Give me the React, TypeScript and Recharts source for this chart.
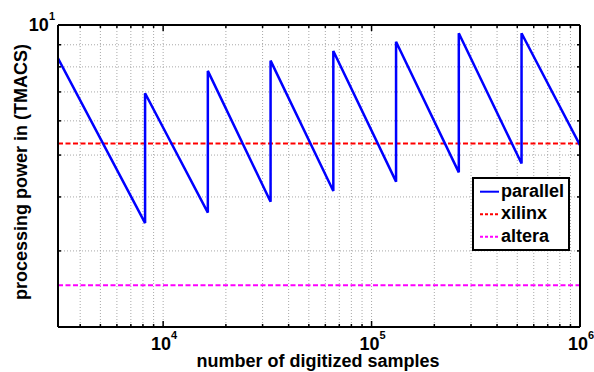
import React from 'react';
import { LineChart, Line, XAxis, YAxis, CartesianGrid, Legend, Label } from 'recharts';

const FONT = '"Liberation Sans", Arial, sans-serif';

// axis limits
const xMin = 3130;
const xMax = 1000000;
const yMin = 2;
const yMax = 10;

// sawtooth: segment starts / ends (powers of two where the curve jumps)
const jumpSamples = [8192, 16384, 32768, 65536, 131072, 262144, 524288];
// value at the start of each segment (first one at the left edge)
const peakValues = [8.37, 6.95, 7.83, 8.27, 8.71, 9.15, 9.57, 9.57];
// value at the end of each segment (last one at the right edge)
const troughValues = [3.48, 3.68, 3.9, 4.13, 4.34, 4.56, 4.78, 5.27];

const xilinxValue = 5.32;
const alteraValue = 2.5;

const xTicks = [
  4000, 5000, 6000, 7000, 8000, 9000,
  10000, 20000, 30000, 40000, 50000, 60000, 70000, 80000, 90000,
  100000, 200000, 300000, 400000, 500000, 600000, 700000, 800000, 900000,
  1000000,
];
const yTicks = [2, 3, 4, 5, 6, 7, 8, 9, 10];

const segStarts = [xMin, ...jumpSamples];
const segEnds = [...jumpSamples, xMax];

const parallelData: { x: number; y: number }[] = [];
segStarts.forEach((s, i) => {
  parallelData.push({ x: s, y: peakValues[i] });
  parallelData.push({ x: segEnds[i], y: troughValues[i] });
});

const xilinxData = [{ x: xMin, y: xilinxValue }, { x: xMax, y: xilinxValue }];
const alteraData = [{ x: xMin, y: alteraValue }, { x: xMax, y: alteraValue }];

const legendItems = [
  { name: 'parallel', color: '#0000ff', dash: undefined as string | undefined },
  { name: 'xilinx', color: '#ff0000', dash: '3 2' },
  { name: 'altera', color: '#ff00ff', dash: '3 2' },
];

const isDecade = (v: number) => Math.abs(Math.log10(v) - Math.round(Math.log10(v))) < 1e-9;

const PowerLabel = ({ x, y, v, anchor }: { x: number; y: number; v: number; anchor: string }) => (
  <text x={x} y={y} textAnchor={anchor} fontFamily={FONT} fontWeight="bold" fontSize={18} fill="#000">
    <tspan>10</tspan>
    <tspan dy={-11} fontSize={11}>{Math.round(Math.log10(v))}</tspan>
  </text>
);

const BottomTick = (props: any) => {
  const { x, y, payload } = props;
  const major = isDecade(payload.value);
  return (
    <g>
      <line x1={x} y1={y} x2={x} y2={y - (major ? 6 : 3)} stroke="#000" strokeWidth={1.5} />
      {major && <PowerLabel x={x + 1} y={y + 23} v={payload.value} anchor="middle" />}
    </g>
  );
};

const TopTick = (props: any) => {
  const { x, y, payload } = props;
  const major = isDecade(payload.value);
  return <line x1={x} y1={y} x2={x} y2={y + (major ? 6 : 3)} stroke="#000" strokeWidth={1.5} />;
};

const LeftTick = (props: any) => {
  const { x, y, payload } = props;
  const major = isDecade(payload.value);
  return (
    <g>
      <line x1={x} y1={y} x2={x + (major ? 6 : 3)} y2={y} stroke="#000" strokeWidth={1.5} />
      {major && <PowerLabel x={x - 3} y={y + 6} v={payload.value} anchor="end" />}
    </g>
  );
};

const RightTick = (props: any) => {
  const { x, y, payload } = props;
  const major = isDecade(payload.value);
  return <line x1={x} y1={y} x2={x - (major ? 6 : 3)} y2={y} stroke="#000" strokeWidth={1.5} />;
};

const LegendBox = () => (
  <svg width={98} height={74} style={{ display: 'block' }}>
    <rect x={1} y={1} width={96} height={72} fill="#fff" stroke="#000" strokeWidth={2} />
    {legendItems.map((it, i) => {
      const cy = 14.7 + i * 22.5;
      return (
        <g key={it.name}>
          <line x1={8} y1={cy} x2={27} y2={cy} stroke={it.color} strokeWidth={2} strokeDasharray={it.dash} />
          <text x={29} y={cy + 5} fontFamily={FONT} fontWeight="bold" fontSize={18} fill="#000">
            {it.name}
          </text>
        </g>
      );
    })}
  </svg>
);

const axisLine = { stroke: '#000', strokeWidth: 2 };

export default function App() {
  return (
    <div style={{ position: 'absolute', left: 0, top: 0, background: '#fff' }}>
      <LineChart width={594} height={372} margin={{ top: 0, right: 0, bottom: 0, left: 0 }}>
        <CartesianGrid stroke="#a8a8a8" strokeDasharray="1 2" />
        <XAxis
          dataKey="x"
          type="number"
          scale="log"
          domain={[xMin, xMax]}
          allowDataOverflow
          ticks={xTicks}
          interval={0}
          height={45}
          tickSize={0}
          tickMargin={0}
          tickLine={false}
          axisLine={axisLine}
          tick={<BottomTick />}
        >
          <Label
            content={() => (
              <text x={318} y={367} textAnchor="middle" fontFamily={FONT} fontWeight="bold" fontSize={18} fill="#000">
                number of digitized samples
              </text>
            )}
          />
        </XAxis>
        <XAxis
          xAxisId="top"
          orientation="top"
          dataKey="x"
          type="number"
          scale="log"
          domain={[xMin, xMax]}
          allowDataOverflow
          ticks={xTicks}
          interval={0}
          height={25}
          tickSize={0}
          tickMargin={0}
          tickLine={false}
          axisLine={axisLine}
          tick={<TopTick />}
        />
        <YAxis
          type="number"
          scale="log"
          domain={[yMin, yMax]}
          allowDataOverflow
          ticks={yTicks}
          interval={0}
          width={58}
          tickSize={0}
          tickMargin={0}
          tickLine={false}
          axisLine={axisLine}
          tick={<LeftTick />}
        >
          <Label
            content={() => (
              <text
                x={27}
                y={172}
                transform="rotate(-90 27 172)"
                textAnchor="middle"
                fontFamily={FONT}
                fontWeight="bold"
                fontSize={18}
                fill="#000"
              >
                processing power in (TMACS)
              </text>
            )}
          />
        </YAxis>
        <YAxis
          yAxisId="right"
          orientation="right"
          type="number"
          scale="log"
          domain={[yMin, yMax]}
          allowDataOverflow
          ticks={yTicks}
          interval={0}
          width={14}
          tickSize={0}
          tickMargin={0}
          tickLine={false}
          axisLine={axisLine}
          tick={<RightTick />}
        />
        <Line data={xilinxData} dataKey="y" name="xilinx" stroke="#ff0000" strokeWidth={2} strokeDasharray="5 2.5" dot={false} isAnimationActive={false} />
        <Line data={alteraData} dataKey="y" name="altera" stroke="#ff00ff" strokeWidth={2} strokeDasharray="5 2.5" dot={false} isAnimationActive={false} />
        <Line data={parallelData} dataKey="y" name="parallel" type="linear" stroke="#0000ff" strokeWidth={2.5} dot={false} isAnimationActive={false} />
        <Legend
          layout="vertical"
          align="center"
          verticalAlign="middle"
          wrapperStyle={{ left: 472, top: 177, width: 98, height: 74 }}
          content={() => <LegendBox />}
        />
      </LineChart>
    </div>
  );
}
